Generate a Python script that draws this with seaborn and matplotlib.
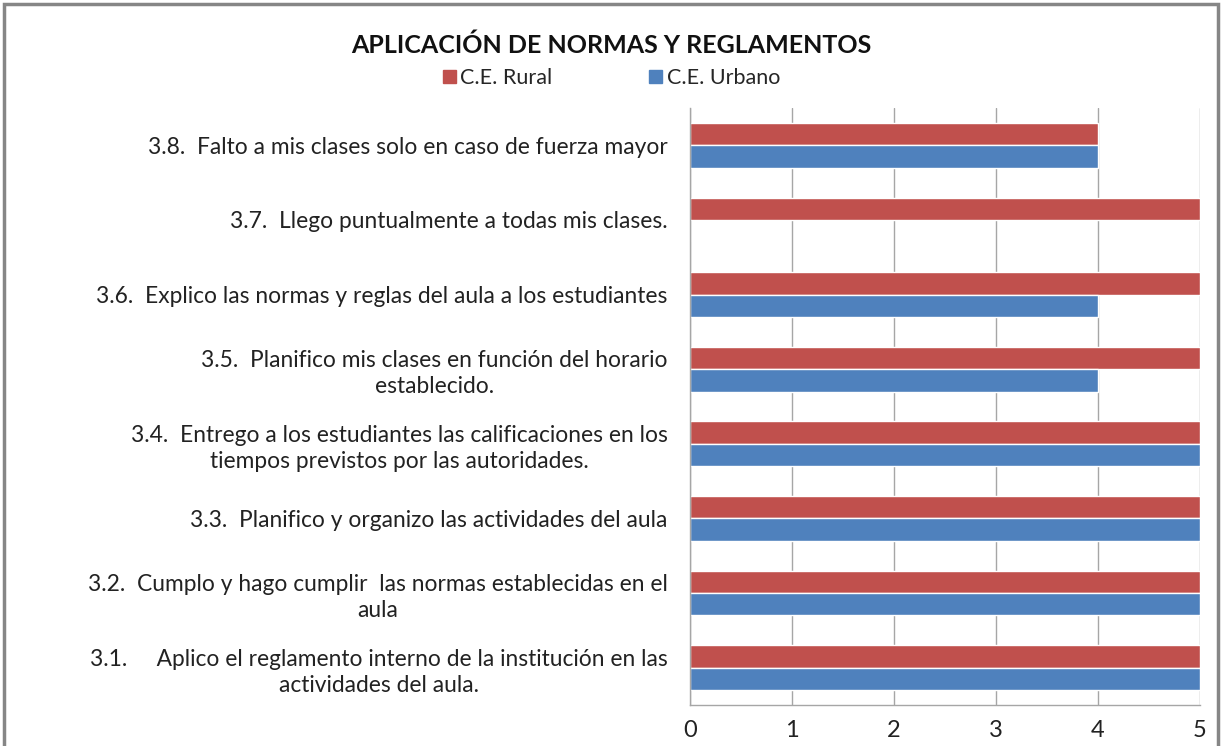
import numpy as np
import pandas as pd
import matplotlib
matplotlib.use("Agg")
import matplotlib.pyplot as plt
import seaborn as sns
from matplotlib.patches import Rectangle, Patch

# ---------------------------------------------------------------- data
items = [
    "3.8.  Falto a mis clases solo en caso de fuerza mayor",
    "3.7.  Llego puntualmente a todas mis clases.",
    "3.6.  Explico las normas y reglas del aula a los estudiantes",
    "3.5.  Planifico mis clases en función del horario\nestablecido.",
    "3.4.  Entrego a los estudiantes las calificaciones en los\ntiempos previstos por las autoridades.",
    "3.3.  Planifico y organizo las actividades del aula",
    "3.2.  Cumplo y hago cumplir  las normas establecidas en el\naula",
    "3.1.     Aplico el reglamento interno de la institución en las\nactividades del aula.",
]
rural = [4, 5, 5, 5, 5, 5, 5, 5]
urbano = [4, 0, 4, 4, 5, 5, 5, 5]
series = ["C.E. Rural", "C.E. Urbano"]
colors = {"C.E. Rural": "#C0504D", "C.E. Urbano": "#4F81BD"}

df = pd.DataFrame({
    "item": items * 2,
    "valor": rural + urbano,
    "serie": [series[0]] * len(items) + [series[1]] * len(items),
})

sns.set_theme(style="white")
plt.rcParams["font.family"] = ["Lato", "DejaVu Sans"]

fig = plt.figure(figsize=(12.23, 7.46), dpi=100)
ax = fig.add_axes([690 / 1223, 1 - 705 / 746, 510 / 1223, 597 / 746])

sns.barplot(data=df, x="valor", y="item", hue="serie", hue_order=series,
            order=items, palette=colors, orient="h", width=0.6,
            saturation=1, ax=ax, legend=False)

ax.set_xlim(0, 5)
ax.set_xticks(range(6))
ax.set_ylim(len(items) - 0.5, -0.5)
ax.grid(axis="x", color="#A6A6A6", lw=1)
ax.set_axisbelow(True)
ax.set_xlabel("")
ax.set_ylabel("")
for s in ["top", "right"]:
    ax.spines[s].set_visible(False)
for s in ["left", "bottom"]:
    ax.spines[s].set_color("#A6A6A6")
    ax.spines[s].set_linewidth(1)
ax.tick_params(axis="x", labelsize=17, pad=11, length=0, colors="#222222")
ax.tick_params(axis="y", labelsize=16.4, pad=16, length=0, colors="#222222")
for lab in ax.get_yticklabels():
    lab.set_multialignment("center")
    lab.set_linespacing(1.3)

fig.text(0.5, 1 - 45 / 746, "APLICACIÓN DE NORMAS Y REGLAMENTOS",
         ha="center", va="center", fontsize=18, fontweight="bold",
         color="#111111")

handles = [Patch(color=colors[s], label=s) for s in series]
fig.legend(handles=handles, loc="center", bbox_to_anchor=(0.5, 1 - 78 / 746),
           ncol=2, frameon=False, fontsize=15.5, handlelength=0.6,
           handleheight=0.6, handletextpad=0.2, columnspacing=4.5)

fig.patches.append(Rectangle((4 / 1223, -0.05), 1214 / 1223, 1.05 - 4 / 746,
                             transform=fig.transFigure, fill=False,
                             edgecolor="#868686", lw=2.5))

fig.savefig("out.png", dpi=100)
